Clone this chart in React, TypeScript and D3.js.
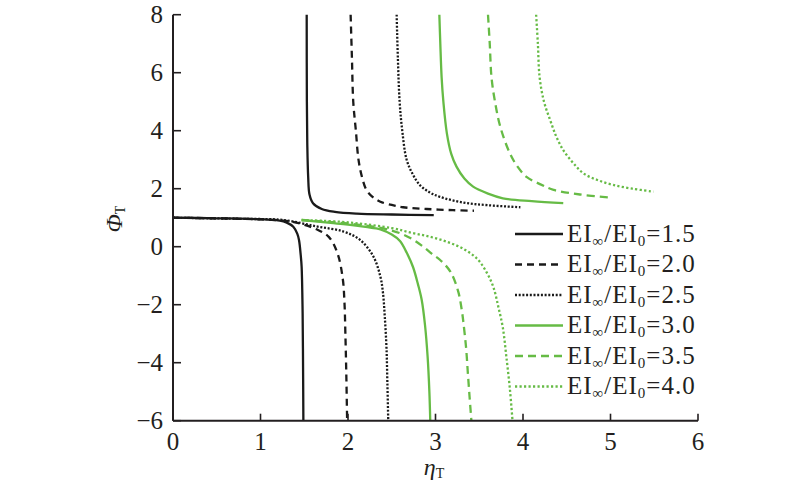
import React from "react";
import * as d3 from "d3";

type Pt = [number, number];

// ---- data (η_T, Φ_T) ----
const xTicks = [0, 1, 2, 3, 4, 5, 6];
const yTicks = [-6, -4, -2, 0, 2, 4, 6, 8];
const ratioLabels = ["1.5", "2.0", "2.5", "3.0", "3.5", "4.0"];

const lower15: Pt[] = [[0, 1.0], [0.5, 0.98], [0.88, 0.96], [1.22, 0.9], [1.3, 0.83], [1.375, 0.69], [1.42, 0.45], [1.44, 0.23], [1.46, -0.3], [1.47, -0.69], [1.48, -2.0], [1.485, -3.5], [1.49, -6]];
const upper15: Pt[] = [[1.528, 8], [1.53, 5], [1.535, 3.5], [1.545, 2.4], [1.56, 1.8], [1.6, 1.5], [1.7, 1.3], [1.85, 1.2], [2.1, 1.14], [2.5, 1.11], [2.98, 1.09]];

const lower20: Pt[] = [[0, 1.0], [0.8, 0.96], [1.26, 0.9], [1.45, 0.8], [1.64, 0.6], [1.78, 0.34], [1.88, -0.23], [1.94, -1.1], [1.96, -1.95], [1.97, -3.0], [1.98, -4.3], [1.99, -6]];
const upper20: Pt[] = [[2.03, 8], [2.045, 6.5], [2.06, 5], [2.09, 4], [2.12, 3], [2.16, 2.4], [2.21, 1.96], [2.28, 1.72], [2.37, 1.55], [2.5, 1.44], [2.63, 1.36], [2.9, 1.3], [3.2, 1.26], [3.44, 1.24]];

const lower25: Pt[] = [[0, 1.0], [0.8, 0.96], [1.26, 0.92], [1.64, 0.7], [1.95, 0.52], [2.14, 0.23], [2.29, -0.34], [2.37, -1.03], [2.4, -1.6], [2.42, -2.4], [2.44, -3.5], [2.45, -4.7], [2.46, -6]];
const upper25: Pt[] = [[2.556, 8], [2.57, 6.5], [2.59, 5], [2.62, 4], [2.67, 3], [2.74, 2.5], [2.82, 2.13], [2.93, 1.88], [3.05, 1.72], [3.32, 1.52], [3.6, 1.43], [3.97, 1.36]];

const lower30: Pt[] = [[1.47, 0.92], [1.8, 0.82], [2.0, 0.76], [2.2, 0.68], [2.37, 0.6], [2.5, 0.42], [2.594, 0.2], [2.67, -0.2], [2.743, -0.7], [2.8, -1.3], [2.842, -1.83], [2.88, -2.7], [2.91, -3.8], [2.93, -5], [2.94, -6]];
const upper30: Pt[] = [[3.044, 8], [3.055, 7], [3.07, 5.84], [3.09, 5], [3.13, 3.91], [3.18, 3.2], [3.24, 2.76], [3.33, 2.35], [3.43, 2.07], [3.6, 1.83], [3.77, 1.67], [4.1, 1.57], [4.46, 1.5]];

const lower35: Pt[] = [[1.47, 0.92], [2.0, 0.8], [2.4, 0.63], [2.59, 0.47], [2.74, 0.25], [2.86, 0.0], [2.96, -0.25], [3.05, -0.45], [3.17, -0.86], [3.26, -1.55], [3.3, -2.18], [3.32, -2.64], [3.35, -3.5], [3.37, -4.37], [3.39, -5.2], [3.41, -6]];
const upper35: Pt[] = [[3.6, 8], [3.62, 7], [3.64, 5.84], [3.68, 5], [3.74, 4.14], [3.85, 3.22], [3.94, 2.75], [4.04, 2.41], [4.2, 2.15], [4.35, 1.96], [4.65, 1.8], [4.97, 1.7]];

const lower40: Pt[] = [[1.47, 0.92], [2.0, 0.84], [2.5, 0.64], [2.74, 0.47], [2.94, 0.34], [3.13, 0.17], [3.31, -0.06], [3.47, -0.4], [3.58, -0.86], [3.66, -1.38], [3.72, -2.1], [3.77, -2.8], [3.81, -3.8], [3.85, -4.9], [3.88, -6]];
const upper40: Pt[] = [[4.15, 8], [4.17, 7], [4.19, 5.84], [4.24, 5], [4.31, 4.37], [4.38, 3.8], [4.46, 3.33], [4.57, 2.9], [4.69, 2.53], [4.85, 2.3], [5.03, 2.13], [5.25, 2.0], [5.49, 1.9]];

const BLACK = "#1a1a1a";
const GREEN = "#66bb45";
const AXIS = "#231f20";

type Series = { label: string; lower: Pt[]; upper: Pt[]; color: string; dash: string | undefined };

const series: Series[] = [
  { label: ratioLabels[0], lower: lower15, upper: upper15, color: BLACK, dash: undefined },
  { label: ratioLabels[1], lower: lower20, upper: upper20, color: BLACK, dash: "7 5" },
  { label: ratioLabels[2], lower: lower25, upper: upper25, color: BLACK, dash: "2 1.7" },
  { label: ratioLabels[3], lower: lower30, upper: upper30, color: GREEN, dash: undefined },
  { label: ratioLabels[4], lower: lower35, upper: upper35, color: GREEN, dash: "8 5" },
  { label: ratioLabels[5], lower: lower40, upper: upper40, color: GREEN, dash: "2.2 2.3" },
];

const FONT = "'Liberation Serif', 'Times New Roman', Times, serif";

export default function App() {
  const x = d3.scaleLinear().domain([0, 6]).range([173, 698]);
  const y = d3.scaleLinear().domain([-6, 8]).range([420.7, 14.7]);
  const line = d3
    .line<Pt>()
    .x((d) => x(d[0]))
    .y((d) => y(d[1]))
    .curve(d3.curveCatmullRom.alpha(0.5));

  const drawOrder = [3, 4, 5, 0, 1, 2];

  return (
    <svg width={800} height={489} style={{ position: "absolute", left: 0, top: 0, background: "#fff" }} fontFamily={FONT}>
      {/* curves */}
      {drawOrder.map((i) => {
        const s = series[i];
        return (
          <g key={i}>
            <path d={line(s.lower) || ""} fill="none" stroke={s.color} strokeWidth={2.3} strokeDasharray={s.dash} />
            <path d={line(s.upper) || ""} fill="none" stroke={s.color} strokeWidth={2.3} strokeDasharray={s.dash} />
          </g>
        );
      })}

      {/* axes */}
      <line x1={x(0)} x2={x(0)} y1={y(8)} y2={y(-6)} stroke={AXIS} strokeWidth={2} />
      <line x1={x(0)} x2={x(6)} y1={y(-6)} y2={y(-6)} stroke={AXIS} strokeWidth={2} />
      {yTicks.map((t) => (
        <g key={"y" + t}>
          <line x1={x(0)} x2={x(0) + 8} y1={y(t)} y2={y(t)} stroke={AXIS} strokeWidth={1.6} />
          <text x={163} y={y(t)} dy="0.34em" textAnchor="end" fontSize={25} fill={AXIS} fontFamily={FONT}>
            {t < 0 ? "\u2212" + Math.abs(t) : String(t)}
          </text>
        </g>
      ))}
      {xTicks.map((t) => (
        <g key={"x" + t}>
          <line x1={x(t)} x2={x(t)} y1={y(-6)} y2={y(-6) - 7} stroke={AXIS} strokeWidth={1.6} />
          <text x={x(t)} y={450} textAnchor="middle" fontSize={25} fill={AXIS} fontFamily={FONT}>
            {String(t)}
          </text>
        </g>
      ))}

      {/* axis titles */}
      <text x={434} y={475} textAnchor="middle" fontSize={24} fill={AXIS} fontFamily={FONT}>
        <tspan fontStyle="italic">η</tspan>
        <tspan fontSize={14} dy={3}>T</tspan>
      </text>
      <text transform="translate(122,219) rotate(-90)" textAnchor="middle" fontSize={24} fill={AXIS} fontFamily={FONT}>
        <tspan fontStyle="italic">Φ</tspan>
        <tspan fontSize={14} dy={3}>T</tspan>
      </text>

      {/* legend */}
      {series.map((s, i) => {
        const ly = 234 + i * 30.5;
        return (
          <g key={"lg" + i}>
            <line x1={515} x2={563} y1={ly} y2={ly} stroke={s.color} strokeWidth={2.3} strokeDasharray={s.dash} />
            <text x={567} y={ly + 7.7} fontSize={25} fill={AXIS} letterSpacing={1} fontFamily={FONT}>
              EI<tspan fontSize={15} dy={4}>∞</tspan>
              <tspan dy={-4}>/EI</tspan>
              <tspan fontSize={15} dy={4}>0</tspan>
              <tspan dy={-4}>={s.label}</tspan>
            </text>
          </g>
        );
      })}
    </svg>
  );
}
